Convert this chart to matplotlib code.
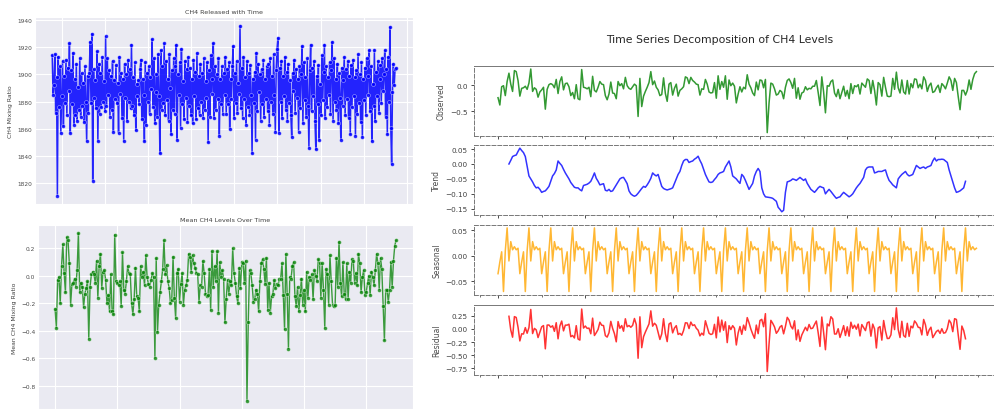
import numpy as np
import matplotlib.pyplot as plt
import seaborn as sns

# raw CH4 mixing ratio readings (ppb)
ch4_ratio = [
    1914, 1885, 1892, 1915, 1872, 1898, 1811, 1913, 1876, 1906, 1857, 1884, 1910, 1862, 1899, 1879, 1911, 1870, 1905, 1888,
    1923, 1857, 1903, 1878, 1916, 1863, 1897, 1870, 1908, 1866, 1891, 1874, 1912, 1869, 1901, 1877, 1894, 1865, 1906, 1880,
    1851, 1899, 1872, 1901, 1924, 1879, 1930, 1822, 1904, 1883, 1896, 1875, 1917, 1851, 1908, 1871, 1901, 1876, 1913, 1880,
    1895, 1873, 1928, 1877, 1912, 1885, 1903, 1869, 1899, 1874, 1910, 1858, 1896, 1882, 1907, 1879, 1894, 1857, 1913, 1886,
    1901, 1868, 1897, 1851, 1908, 1883, 1900, 1866, 1911, 1880, 1904, 1875, 1922, 1877, 1898, 1870, 1909, 1859, 1893, 1884,
    1896, 1878, 1904, 1911, 1867, 1897, 1885, 1851, 1909, 1863, 1901, 1880, 1906, 1871, 1898, 1889, 1926, 1876, 1912, 1864,
    1887, 1900, 1869, 1915, 1884, 1842, 1918, 1874, 1906, 1879, 1923, 1870, 1910, 1881, 1897, 1866, 1915, 1890, 1856, 1903,
    1874, 1912, 1871, 1906, 1922, 1852, 1900, 1885, 1909, 1861, 1919, 1878, 1895, 1867, 1910, 1883, 1904, 1865, 1913, 1877,
    1905, 1870, 1897, 1864, 1911, 1884, 1902, 1867, 1916, 1875, 1899, 1870, 1908, 1880, 1901, 1868, 1912, 1874, 1895, 1883,
    1909, 1850, 1903, 1869, 1914, 1886, 1897, 1923, 1868, 1906, 1874, 1900, 1882, 1912, 1855, 1897, 1878, 1906, 1871, 1901,
    1885, 1913, 1871, 1904, 1878, 1909, 1860, 1897, 1882, 1906, 1921, 1868, 1901, 1879, 1910, 1872, 1894, 1886, 1936, 1875,
    1905, 1868, 1913, 1882, 1898, 1863, 1910, 1876, 1901, 1870, 1907, 1885, 1842, 1897, 1879, 1902, 1852, 1916, 1873, 1908,
    1887, 1900, 1866, 1904, 1878, 1911, 1869, 1897, 1882, 1906, 1873, 1908, 1863, 1912, 1880, 1899, 1871, 1915, 1885, 1858,
    1903, 1919, 1927, 1857, 1905, 1880, 1910, 1868, 1899, 1884, 1913, 1874, 1902, 1866, 1908, 1879, 1896, 1870, 1854, 1901,
    1888, 1911, 1872, 1904, 1883, 1897, 1858, 1906, 1875, 1900, 1921, 1864, 1909, 1881, 1898, 1869, 1912, 1877, 1846, 1903,
    1922, 1873, 1905, 1884, 1910, 1866, 1845, 1899, 1878, 1907, 1852, 1893, 1870, 1914, 1881, 1902, 1922, 1868, 1906, 1876,
    1898, 1885, 1909, 1871, 1903, 1924, 1866, 1912, 1880, 1897, 1874, 1908, 1864, 1901, 1883, 1852, 1905, 1877, 1896, 1913,
    1870, 1904, 1882, 1910, 1868, 1899, 1856, 1907, 1876, 1911, 1884, 1898, 1855, 1903, 1871, 1915, 1879, 1900, 1865, 1909,
    1854, 1897, 1881, 1905, 1870, 1912, 1885, 1899, 1918, 1873, 1906, 1851, 1893, 1877, 1918, 1866, 1902, 1884, 1910, 1872,
    1897, 1907, 1879, 1912, 1888, 1900, 1918, 1869, 1904, 1856, 1913, 1880, 1935, 1861, 1834, 1887, 1908, 1892, 1904, 1905,
]

# monthly mean (anomaly) series, one row per year
mean_ch4 = [
    -0.24, -0.38, -0.03, -0.01, -0.20, 0.07, 0.23, 0.02, -0.12, 0.28, 0.26, 0.09,
    -0.21, -0.06, -0.05, -0.02, -0.08, 0.04, 0.31, -0.12, -0.05, -0.08, -0.23, -0.13,
    -0.09, -0.04, -0.46, -0.08, 0.01, 0.03, 0.01, -0.05, 0.11, -0.16, 0.07, 0.16,
    -0.09, 0.03, 0.04, -0.03, -0.20, -0.14, -0.26, 0.01, -0.26, -0.28, 0.30, -0.04,
    -0.05, -0.07, -0.04, -0.22, 0.17, -0.10, -0.13, -0.04, 0.07, 0.02, 0.01, -0.20,
    -0.28, -0.17, 0.06, -0.15, -0.16, -0.26, 0.07, -0.01, 0.03, -0.07, 0.15, -0.01,
    -0.06, -0.08, -0.03, 0.02, -0.01, -0.60, 0.13, -0.41, -0.21, -0.12, -0.04, 0.05,
    0.26, 0.01, 0.08, -0.04, -0.09, -0.20, -0.18, 0.14, -0.16, -0.31, 0.02, 0.05,
    -0.19, -0.06, 0.02, -0.21, -0.10, -0.07, -0.03, 0.16, 0.14, 0.03, 0.15, 0.09,
    0.06, 0.02, 0.01, -0.19, -0.07, -0.08, 0.11, 0.02, -0.13, -0.15, -0.14, 0.05,
    -0.25, 0.18, -0.08, 0.07, -0.04, 0.18, -0.27, 0.10, -0.01, 0.04, -0.02, -0.34,
    -0.17, -0.03, -0.13, -0.04, -0.07, 0.20, 0.02, -0.05, -0.15, -0.20, 0.06, -0.09,
    0.10, 0.09, -0.05, 0.11, -0.91, -0.34, 0.04, 0.02, -0.07, -0.19, -0.17, -0.10,
    -0.13, -0.26, -0.04, 0.09, 0.12, 0.05, -0.06, 0.13, -0.25, -0.05, -0.27, -0.15,
    -0.13, -0.03, -0.09, -0.06, -0.07, -0.02, -0.02, 0.09, -0.14, -0.39, 0.16, -0.13,
    -0.53, -0.01, -0.02, 0.07, 0.10, -0.15, -0.22, -0.08, -0.26, -0.14, -0.02, -0.21,
    -0.10, -0.26, 0.03, -0.16, -0.01, -0.03, 0.01, -0.17, 0.04, 0.00, -0.04, 0.12,
    0.09, -0.16, 0.09, -0.10, -0.38, 0.05, 0.01, -0.21, 0.15, -0.04, -0.21, -0.22,
    -0.21, 0.13, -0.08, 0.25, -0.05, -0.15, 0.10, -0.13, -0.17, 0.09, -0.17, 0.03,
    -0.05, 0.12, 0.11, -0.05, 0.02, -0.07, 0.16, 0.09, -0.12, -0.01, 0.04, -0.14,
    -0.12, -0.05, 0.00, -0.14, 0.03, -0.01, -0.07, 0.04, 0.16, 0.09, -0.10, 0.13,
    0.05, -0.22, -0.47, -0.10, -0.10, -0.19, -0.10, 0.10, -0.08, 0.11, 0.22, 0.26,
]

# trend component (centred moving average, first/last 6 months missing)
trend_vals = [
    0.000, 0.012, 0.025, 0.028, 0.030, 0.042, 0.053, 0.045, 0.038, 0.025, -0.008, -0.040,
    -0.050, -0.060, -0.072, -0.080, -0.078, -0.085, -0.095, -0.092, -0.090, -0.083, -0.075, -0.058,
    -0.040, -0.032, -0.020, 0.010, 0.002, -0.005, -0.018, -0.030, -0.040, -0.050, -0.062, -0.070,
    -0.078, -0.080, -0.080, -0.086, -0.090, -0.072, -0.070, -0.068, -0.064, -0.058, -0.045, -0.030,
    -0.048, -0.058, -0.070, -0.068, -0.066, -0.088, -0.090, -0.085, -0.092, -0.090, -0.080, -0.070,
    -0.060, -0.050, -0.046, -0.045, -0.055, -0.066, -0.090, -0.100, -0.105, -0.108, -0.105, -0.098,
    -0.090, -0.082, -0.075, -0.078, -0.070, -0.060, -0.048, -0.030, -0.036, -0.040, -0.035, -0.055,
    -0.075, -0.082, -0.085, -0.087, -0.085, -0.083, -0.080, -0.065, -0.050, -0.035, -0.025, -0.005,
    0.010, 0.015, 0.015, 0.005, 0.008, 0.010, 0.016, 0.020, 0.026, 0.012, 0.000, -0.018,
    -0.035, -0.048, -0.060, -0.062, -0.060, -0.052, -0.045, -0.035, -0.030, -0.028, -0.025, -0.010,
    0.000, 0.010, -0.010, -0.040, -0.045, -0.050, -0.058, -0.065, -0.035, -0.042, -0.055, -0.070,
    -0.085, -0.075, -0.065, -0.040, -0.025, -0.015, -0.025, -0.080, -0.100, -0.110, -0.111, -0.112,
    -0.113, -0.115, -0.120, -0.125, -0.145, -0.152, -0.160, -0.155, -0.095, -0.060, -0.058, -0.055,
    -0.050, -0.052, -0.055, -0.050, -0.045, -0.050, -0.055, -0.050, -0.065, -0.075, -0.085, -0.090,
    -0.095, -0.088, -0.080, -0.075, -0.078, -0.080, -0.100, -0.092, -0.085, -0.092, -0.100, -0.108,
    -0.115, -0.112, -0.110, -0.102, -0.095, -0.100, -0.105, -0.110, -0.106, -0.100, -0.090, -0.080,
    -0.072, -0.065, -0.055, -0.045, -0.020, -0.012, -0.010, -0.010, -0.010, -0.030, -0.028, -0.025,
    -0.025, -0.025, -0.022, -0.020, -0.040, -0.055, -0.062, -0.070, -0.075, -0.080, -0.050, -0.042,
    -0.035, -0.030, -0.025, -0.035, -0.040, -0.038, -0.035, -0.020, -0.005, -0.010, -0.015, -0.012,
    -0.010, -0.015, -0.010, -0.008, -0.005, 0.010, 0.020, 0.010, 0.015, 0.015, 0.016, 0.015,
    0.010, 0.005, -0.020, -0.040, -0.060, -0.080, -0.095, -0.093, -0.090, -0.085, -0.080, -0.058,
]

# one seasonal cycle (12 months)
seasonal_cycle = [-0.035, -0.012, 0.008, -0.070, 0.010, 0.055, -0.010, 0.028, 0.012, 0.018, 0.012, 0.015]
n_years = 22

observed = np.array(mean_ch4)
n = len(observed)
trend = np.full(n, np.nan)
trend[6:n - 6] = trend_vals
seasonal = np.tile(seasonal_cycle, n_years)
resid = observed - trend - seasonal

sns.set_style("darkgrid")
plt.rcParams['font.family'] = ['DejaVu Sans']

fig = plt.figure(figsize=(9.95, 4.1), dpi=100)

# ---- left: raw readings
ax1 = fig.add_axes([0.0352, 0.5, 0.380, 0.456])
x1 = np.arange(len(ch4_ratio))
ax1.plot(x1, ch4_ratio, color='blue', marker='o', markersize=2.8, lw=1.1,
         mec='white', mew=0.3, alpha=0.85)
ax1.set_title("CH4 Released with Time", fontsize=4.6, pad=3, color='.25')
ax1.set_ylabel("CH4 Mixing Ratio", fontsize=4.4, labelpad=3, color='.25')
ax1.set_xticks(np.arange(11.5, 420, 50))
ax1.set_xticklabels([])
ax1.set_yticks(np.arange(1820, 1941, 20))
ax1.tick_params(length=0, labelsize=4.2, labelcolor='.3', pad=2)

# ---- left: monthly means
ax2 = fig.add_axes([0.0382, 0.0, 0.377, 0.449])
x2 = np.arange(n)
ax2.plot(x2, observed, color='green', marker='o', markersize=2.8, lw=1.0,
         mec='white', mew=0.3, alpha=0.75)
ax2.set_title("Mean CH4 Levels Over Time", fontsize=4.6, pad=3, color='.25')
ax2.set_ylabel("Mean CH4 Mixing Ratio", fontsize=4.4, labelpad=3, color='.25')
ax2.set_xticks(np.arange(0, 241, 48))
ax2.set_xticklabels([])
ax2.set_yticks([-0.8, -0.6, -0.4, -0.2, 0.0, 0.2])
ax2.tick_params(length=0, labelsize=4.2, labelcolor='.3', pad=2)

# ---- right: decomposition
with plt.style.context('default'):
    plt.rcParams['font.family'] = ['DejaVu Sans']
    tops = [0.837, 0.644, 0.4495, 0.2544]
    h = 0.1707
    comps = [("Observed", observed, 'green'), ("Trend", trend, 'blue'),
             ("Seasonal", seasonal, 'orange'), ("Residual", resid, 'red')]
    yticks = [[-0.5, 0.0], [-0.15, -0.10, -0.05, 0.00, 0.05],
              [-0.05, 0.00, 0.05], [-0.75, -0.50, -0.25, 0.00, 0.25]]
    fmts = ['{:.1f}', '{:.2f}', '{:.2f}', '{:.2f}']
    for k, (name, vals, col) in enumerate(comps):
        ax = fig.add_axes([0.4764, tops[k] - h, 0.536, h])
        ax.set_facecolor('white')
        ax.plot(x2, vals, color=col, lw=1.1, alpha=0.8)
        # right part of the panel runs past the picture edge
        ax.set_xlim(-13.2, 280)
        ax.set_ylabel(name, fontsize=5.5, labelpad=3, color='.3')
        ax.set_yticks(yticks[k])
        ax.set_yticklabels([fmts[k].format(v).replace('-', '\u2212') for v in yticks[k]])
        ax.set_xticks(np.arange(0, 241, 48))
        ax.set_xticks([-10, 24, 72, 120, 168, 216, 264], minor=True)
        ax.tick_params(labelbottom=False, labelsize=5.2, labelcolor='.25',
                       length=2.5, width=0.5, pad=2)
        ax.tick_params(which='minor', length=1.5, width=0.4)
        ax.grid(False)
        for side in ['left', 'bottom', 'top', 'right']:
            ax.spines[side].set_color('#777777')
            ax.spines[side].set_linewidth(0.7)
            ax.spines[side].set_linestyle((0, (4, 2)))
        if k in (0, 3):
            ax.spines['top'].set_linestyle('-')
    fig.text(0.7235, 0.902, "Time Series Decomposition of CH4 Levels",
             ha='center', va='center', fontsize=7.8, color='.15')

fig.savefig("out.png", dpi=100)
